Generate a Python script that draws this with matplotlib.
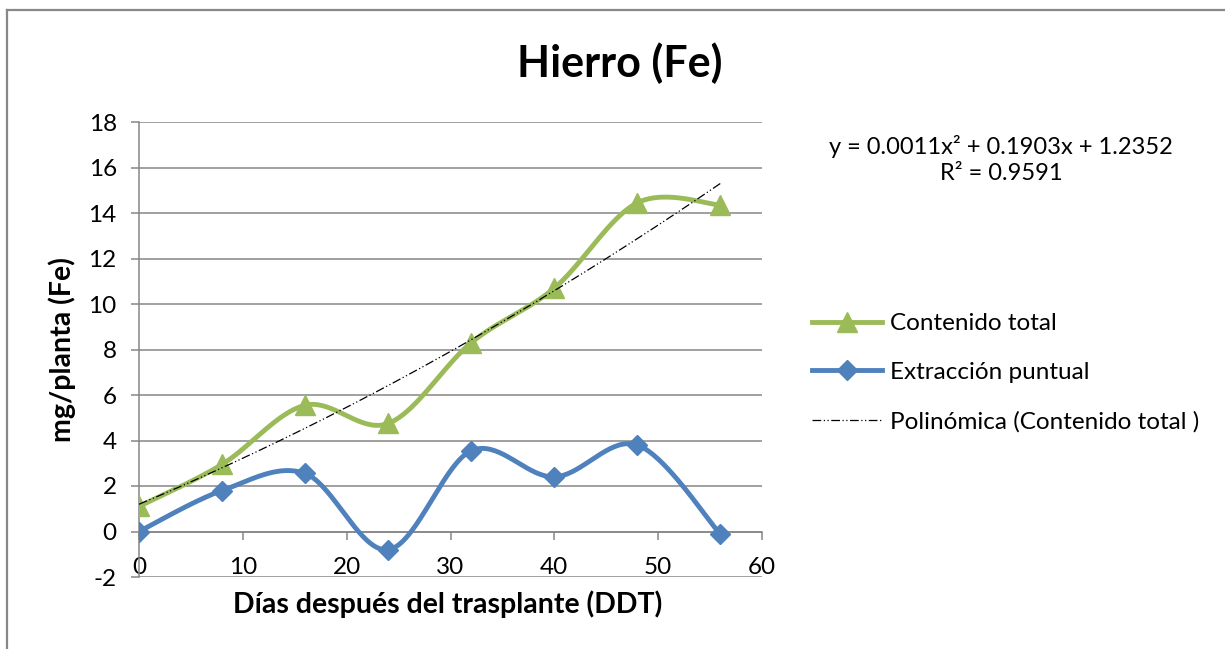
import matplotlib
matplotlib.use('Agg')
import matplotlib.pyplot as plt
from matplotlib.lines import Line2D
import numpy as np

plt.rcParams['font.family'] = ['Lato', 'DejaVu Sans']
plt.rcParams['axes.unicode_minus'] = False

# datos
dias = [0, 8, 16, 24, 32, 40, 48, 56]
contenido_total = [1.1, 2.95, 5.55, 4.75, 8.3, 10.7, 14.45, 14.35]
extraccion_puntual = [0.0, 1.8, 2.55, -0.8, 3.55, 2.4, 3.8, -0.12]
y_ticks = [-2, 0, 2, 4, 6, 8, 10, 12, 14, 16, 18]
x_ticks = [0, 10, 20, 30, 40, 50, 60]

GREEN = '#9BBB59'
BLUE = '#4F81BD'
GRID = '#868686'


def suavizar(x, y, n=40):
    # curva tipo Excel: bezier cubica con puntos de control Catmull-Rom
    x = np.asarray(x, float)
    y = np.asarray(y, float)
    px = np.concatenate([[x[0]], x, [x[-1]]])
    py = np.concatenate([[y[0]], y, [y[-1]]])
    xs, ys = [], []
    t = np.linspace(0, 1, n)
    for i in range(1, len(px) - 2):
        p0 = np.array([px[i], py[i]])
        p3 = np.array([px[i + 1], py[i + 1]])
        c1 = p0 + (np.array([px[i + 1], py[i + 1]]) - np.array([px[i - 1], py[i - 1]])) / 6
        c2 = p3 - (np.array([px[i + 2], py[i + 2]]) - p0) / 6
        b = ((1 - t) ** 3)[:, None] * p0 + (3 * (1 - t) ** 2 * t)[:, None] * c1 \
            + (3 * (1 - t) * t ** 2)[:, None] * c2 + (t ** 3)[:, None] * p3
        xs.extend(b[:, 0])
        ys.extend(b[:, 1])
    return np.array(xs), np.array(ys)


fig = plt.figure(figsize=(12.25, 6.49), dpi=100)
fig.patch.set_facecolor('white')

# marco del area del grafico
fig.add_artist(Line2D([6.5 / 1225, 6.5 / 1225], [0, 1 - 10 / 649], transform=fig.transFigure,
                      color='#888888', lw=1.6))
fig.add_artist(Line2D([6.5 / 1225, 1], [1 - 10 / 649, 1 - 10 / 649], transform=fig.transFigure,
                      color='#888888', lw=1.6))

ax = fig.add_axes([139 / 1225, 1 - 577 / 649, (762 - 139) / 1225, (577 - 122) / 649])

for yv in y_ticks:
    ax.axhline(yv, color=GRID, lw=1.1, zorder=0)

xs, ys = suavizar(dias, contenido_total)
ax.plot(xs, ys, color=GREEN, lw=3.5, solid_capstyle='round', zorder=3)
ax.plot(dias, contenido_total, ls='none', marker='^', ms=14, color=GREEN, zorder=4)

xs, ys = suavizar(dias, extraccion_puntual)
ax.plot(xs, ys, color=BLUE, lw=3.5, solid_capstyle='round', zorder=3)
ax.plot(dias, extraccion_puntual, ls='none', marker='D', ms=10.5, color=BLUE, zorder=4)

# linea de tendencia polinomica (grado 2)
coef = np.polyfit(dias, contenido_total, 2)
xt = np.linspace(dias[0], dias[-1], 200)
ax.plot(xt, np.polyval(coef, xt), color='black', lw=0.9,
        ls=(0, (7, 2, 1, 2, 1, 2)), zorder=5)

ax.set_xlim(0, 60)
ax.set_ylim(-2, 18)
ax.set_xticks(x_ticks)
ax.set_yticks(y_ticks)
ax.spines['top'].set_visible(False)
ax.spines['right'].set_visible(False)
ax.spines['bottom'].set_position(('data', 0))
ax.spines['left'].set_color(GRID)
ax.spines['bottom'].set_color(GRID)
ax.spines['left'].set_linewidth(1.1)
ax.spines['bottom'].set_linewidth(1.1)
ax.tick_params(axis='x', length=6, width=1.1, color=GRID, pad=12, labelsize=17.5)
ax.tick_params(axis='y', length=6, width=1.1, color=GRID, pad=10, labelsize=17.5)

fig.text(620 / 1225, 1 - 63 / 649, 'Hierro (Fe)', ha='center', va='center',
         fontsize=31, fontweight='bold')
fig.text(62 / 1225, 1 - 350 / 649, 'mg/planta (Fe)', ha='center', va='center',
         rotation=90, fontsize=20.5, fontweight='bold')
fig.text(448 / 1225, 1 - 604 / 649, 'Días después del trasplante (DDT)', ha='center',
         va='center', fontsize=20.5, fontweight='bold')

fig.text(1001 / 1225, 1 - 147 / 649, 'y = 0.0011x² + 0.1903x + 1.2352', ha='center',
         va='center', fontsize=17)
fig.text(1001 / 1225, 1 - 173 / 649, 'R² = 0.9591', ha='center', va='center',
         fontsize=17)

handles = [
    Line2D([], [], color=GREEN, lw=3.5, marker='^', ms=14),
    Line2D([], [], color=BLUE, lw=3.5, marker='D', ms=10.5),
    Line2D([], [], color='black', lw=0.9, ls=(0, (7, 2, 1, 2, 1, 2))),
]
labels = ['Contenido total', 'Extracción puntual', 'Polinómica (Contenido total )']
fig.legend(handles, labels, loc='upper left', bbox_to_anchor=(812 / 1225, 1 - 313 / 649),
           frameon=False, fontsize=17.5, handlelength=2.9, handletextpad=0.3,
           labelspacing=1.15, borderaxespad=0, borderpad=0)

plt.savefig('out.png', dpi=100, facecolor='white')
